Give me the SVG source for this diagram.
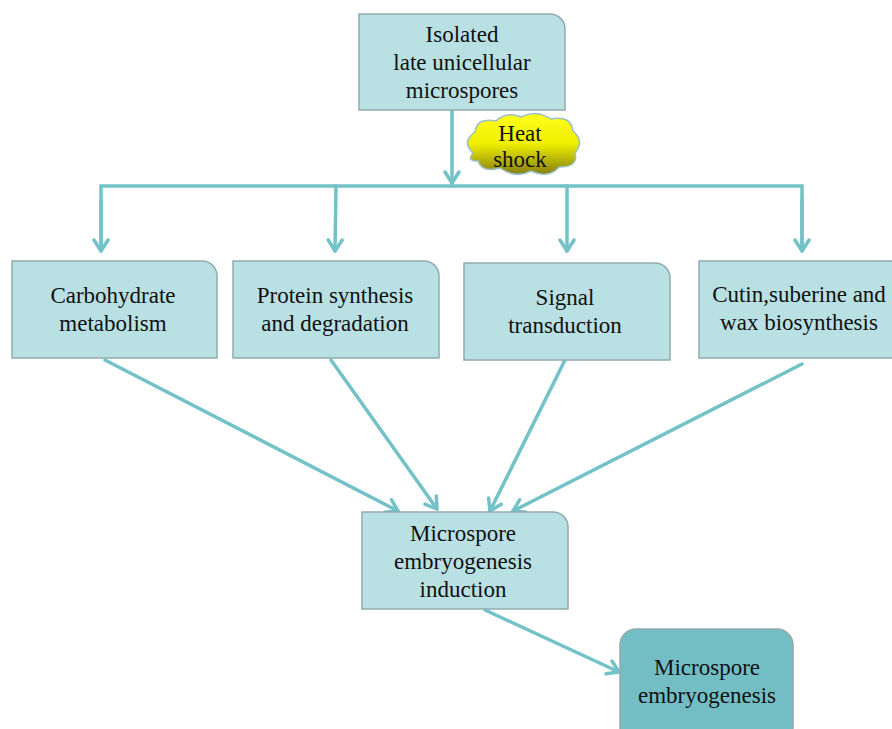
<svg xmlns="http://www.w3.org/2000/svg" width="892" height="729" viewBox="0 0 892 729">
<style>
.box{fill:#b9e0e3;stroke:#91abaf;stroke-width:1.5}
.dark{fill:#72bec4;stroke:#91abaf;stroke-width:1.5}
.t{font-family:"Liberation Serif","Times New Roman","DejaVu Serif",serif;font-size:23px;fill:#111;text-anchor:middle}
.c{fill:none;stroke:#72c2c8;stroke-width:3.5;stroke-linecap:round}
</style>
<defs>
<marker id="ah" markerUnits="userSpaceOnUse" markerWidth="18" markerHeight="18" viewBox="0 0 18 18" refX="15" refY="9" orient="auto">
<path d="M4,2 L15,9 L4,16" fill="none" stroke="#72c2c8" stroke-width="3.5" stroke-linecap="round" stroke-linejoin="round"/>
</marker>
<linearGradient id="yel" x1="0" y1="0" x2="0" y2="1">
<stop offset="0" stop-color="#ffff1a"/>
<stop offset="0.5" stop-color="#eeee00"/>
<stop offset="1" stop-color="#857f12"/>
</linearGradient>
</defs>
<g id="connectors">
<line class="c" x1="452" y1="110" x2="452" y2="183" marker-end="url(#ah)"/>
<polyline class="c" points="101,251 101,186 802,186 802,251" style="stroke-linecap:butt"/>
<line class="c" x1="101" y1="200" x2="101" y2="251" marker-end="url(#ah)"/>
<line class="c" x1="336" y1="186" x2="335" y2="251" marker-end="url(#ah)"/>
<line class="c" x1="567" y1="186" x2="567" y2="251" marker-end="url(#ah)"/>
<line class="c" x1="802" y1="200" x2="802" y2="251" marker-end="url(#ah)"/>
<line class="c" x1="105" y1="360" x2="398" y2="511" marker-end="url(#ah)"/>
<line class="c" x1="331" y1="360" x2="437" y2="509" marker-end="url(#ah)"/>
<line class="c" x1="565" y1="360" x2="490" y2="511" marker-end="url(#ah)"/>
<line class="c" x1="802" y1="364" x2="513" y2="511" marker-end="url(#ah)"/>
<line class="c" x1="485" y1="610" x2="619" y2="672" marker-end="url(#ah)"/>
</g>
<g id="n-isolated">
<path class="box" d="M359,14 H550 A15,15 0 0 1 565,29 V110 H359 Z"/>
<text class="t" x="462" y="42">Isolated</text>
<text class="t" x="462" y="70">late unicellular</text>
<text class="t" x="462" y="98">microspores</text>
</g>
<g id="n-heat">
<path d="M473,153 Q461,142 475,132 Q477,117 496,121 Q506,111 521,117 Q536,109 551,119 Q571,115 573,131 Q585,141 575,153 Q579,167 559,167 Q549,179 531,171 Q516,179 500,168 Q482,173 478,161 Q466,161 473,153 Z" fill="url(#yel)" stroke="#9bbfc8" stroke-width="1.5"/>
<text class="t" x="520" y="141">Heat</text>
<text class="t" x="520" y="167">shock</text>
</g>
<g id="n-carb">
<path class="box" d="M12,261 H202 A15,15 0 0 1 217,276 V358 H12 Z"/>
<text class="t" x="113" y="303">Carbohydrate</text>
<text class="t" x="113" y="331">metabolism</text>
</g>
<g id="n-protein">
<path class="box" d="M233,261 H424 A15,15 0 0 1 439,276 V358 H233 Z"/>
<text class="t" x="335" y="303">Protein synthesis</text>
<text class="t" x="335" y="331">and degradation</text>
</g>
<g id="n-signal">
<path class="box" d="M464,263 H655 A15,15 0 0 1 670,278 V360 H464 Z"/>
<text class="t" x="565" y="305">Signal</text>
<text class="t" x="565" y="333">transduction</text>
</g>
<g id="n-cutin">
<path class="box" d="M699,261 H890 A15,15 0 0 1 905,276 V358 H699 Z"/>
<text class="t" x="799" y="302">Cutin,suberine and</text>
<text class="t" x="799" y="330">wax biosynthesis</text>
</g>
<g id="n-induction">
<path class="box" d="M362,512 H553 A15,15 0 0 1 568,527 V609 H362 Z"/>
<text class="t" x="463" y="541">Microspore</text>
<text class="t" x="463" y="569">embryogenesis</text>
<text class="t" x="463" y="597">induction</text>
</g>
<g id="n-embryo">
<rect class="dark" x="620" y="629" width="173" height="115" rx="16"/>
<text class="t" x="707" y="675">Microspore</text>
<text class="t" x="707" y="703">embryogenesis</text>
</g>
</svg>
